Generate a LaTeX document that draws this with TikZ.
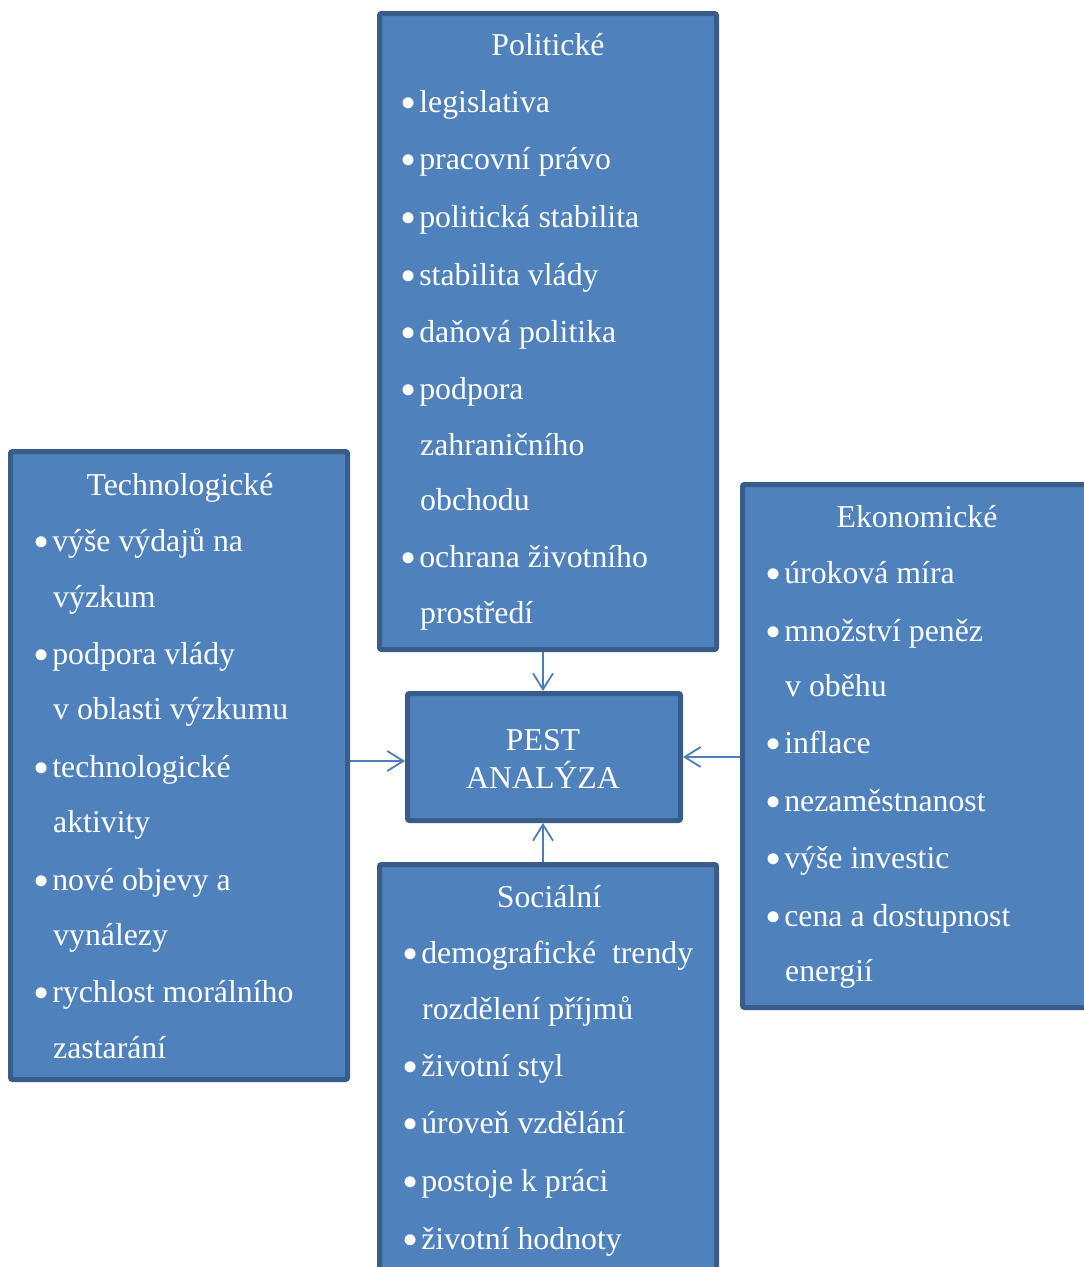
\documentclass[tikz,border=0pt]{standalone}
\usepackage{fontspec}
\setmainfont{Liberation Serif}
\usetikzlibrary{arrows.meta}
\definecolor{boxfill}{HTML}{4F81BD}
\definecolor{boxline}{HTML}{385D8A}
\definecolor{arrowblue}{HTML}{4A7EBB}
% enlarged bullet, lowered to sit at mid x-height
\newcommand\bul{\raisebox{-6pt}{\fontsize{46}{46}\selectfont •}\hspace{3pt}}

\begin{document}
\begin{tikzpicture}[x=1pt,y=-1pt,
  panel/.style={rectangle, draw=boxline, fill=boxfill, line width=5pt,
    rounded corners=2pt, inner sep=0pt},
  txt/.style={text=white, font=\fontsize{31.8}{37}\selectfont,
    inner sep=0pt, anchor=base west},
  head/.style={txt, anchor=base},
  item/.style={txt, yshift=-2pt},
  link/.style={draw=arrowblue, line width=1.8pt,
    -{Straight Barb[length=16pt,width=20pt]}}]

\path[use as bounding box] (0,0) rectangle (1084,1267);
\clip (0,0) rectangle (1084,1267);

% the five panels
\node[panel, minimum width=337pt, minimum height=636pt] (pol) at (548,331.5) {};
\node[panel, minimum width=337pt, minimum height=628pt] (tech) at (179,765.5) {};
\node[panel, minimum width=273pt, minimum height=127pt] (pest) at (544,757) {};
\node[panel, minimum width=357.5pt, minimum height=523pt] (ekon) at (921.25,746) {};
\node[panel, minimum width=337pt, minimum height=435.5pt] (soc) at (548,1082.25) {};

% connectors into the centre
\coordinate (tin) at ([yshift=-4pt]pest.west);
\coordinate (pin) at ([xshift=-1pt]pest.north);
\coordinate (sin) at ([xshift=-1pt]pest.south);
\draw[link] (pol.south -| pin) -- (pin);
\draw[link] (soc.north -| sin) -- (sin);
\draw[link] (tech.east |- tin) -- (tin);
\draw[link] (ekon.west |- pest.east) -- (pest.east);

% centre
\node[head] (pest1) at (543,750) {PEST};
\node[head] (pest2) at (543,788) {ANALÝZA};

% political factors
\node[head] (polh) at (548,55) {Politické};
\node[item] (pol1) at (400,110) {\bul legislativa};
\node[item] (pol2) at (400,167) {\bul pracovní právo};
\node[item] (pol3) at (400,225) {\bul politická stabilita};
\node[item] (pol4) at (400,283) {\bul stabilita vlády};
\node[item] (pol5) at (400,340) {\bul daňová politika};
\node[item] (pol6) at (400,397) {\bul podpora};
\node[item] (pol6b) at (420,453) {zahraničního};
\node[item] (pol6c) at (420,508) {obchodu};
\node[item] (pol7) at (400,565) {\bul ochrana životního};
\node[item] (pol7b) at (420,621) {prostředí};

% technological factors
\node[head] (techh) at (180,495) {Technologické};
\node[item] (tech1) at (33,549) {\bul výše výdajů na};
\node[item] (tech1b) at (53,605) {výzkum};
\node[item] (tech2) at (33,662) {\bul podpora vlády};
\node[item] (tech2b) at (53,717) {v oblasti výzkumu};
\node[item] (tech3) at (33,775) {\bul technologické};
\node[item] (tech3b) at (53,830) {aktivity};
\node[item] (tech4) at (33,888) {\bul nové objevy a};
\node[item] (tech4b) at (53,943) {vynálezy};
\node[item] (tech5) at (33,1000) {\bul rychlost morálního};
\node[item] (tech5b) at (53,1056) {zastarání};

% economic factors
\node[head] (ekonh) at (917,527) {Ekonomické};
\node[item] (ekon1) at (765,581) {\bul úroková míra};
\node[item] (ekon2) at (765,639) {\bul množství peněz};
\node[item] (ekon2b) at (785,694) {v oběhu};
\node[item] (ekon3) at (765,751) {\bul inflace};
\node[item] (ekon4) at (765,809) {\bul nezaměstnanost};
\node[item] (ekon5) at (765,866) {\bul výše investic};
\node[item] (ekon6) at (765,924) {\bul cena a dostupnost};
\node[item] (ekon6b) at (785,979) {energií};

% social factors
\node[head] (soch) at (549,907) {Sociální};
\node[item] (soc1) at (402,961) {\bul demografické\ \ trendy};
\node[item] (soc1b) at (422,1017) {rozdělení příjmů};
\node[item] (soc2) at (402,1074) {\bul životní styl};
\node[item] (soc3) at (402,1131) {\bul úroveň vzdělání};
\node[item] (soc4) at (402,1189) {\bul postoje k práci};
\node[item] (soc5) at (402,1247) {\bul životní hodnoty};
\end{tikzpicture}
\end{document}
